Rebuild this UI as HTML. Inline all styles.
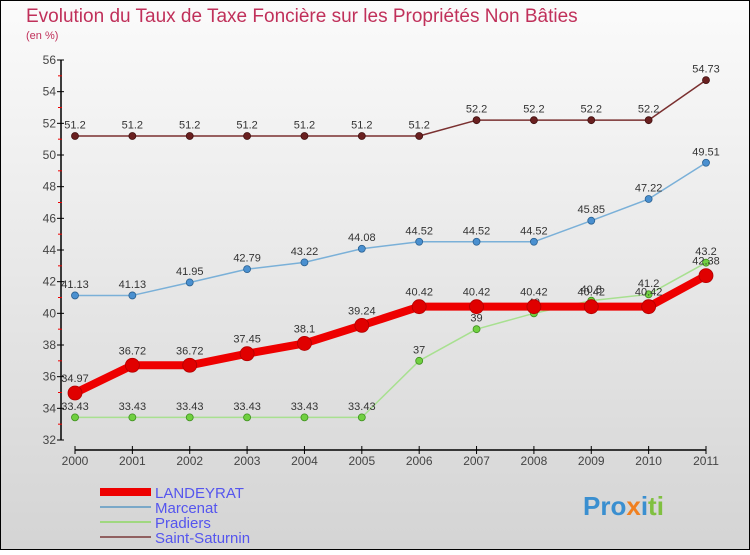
<!DOCTYPE html>
<html><head><meta charset="utf-8"><style>
body{margin:0;width:750px;height:550px;overflow:hidden;font-family:"Liberation Sans",sans-serif}
</style></head><body>
<svg width="750" height="550">
<defs><linearGradient id="bg" x1="0" y1="0" x2="0" y2="1"><stop offset="0" stop-color="#fbfbfb"/><stop offset="1" stop-color="#d4d4d4"/></linearGradient></defs>
<rect x="0.5" y="0.5" width="749" height="549" fill="url(#bg)" stroke="#000"/>
<text x="26" y="22" font-size="19" fill="#c0305a">Evolution du Taux de Taxe Foncière sur les Propriétés Non Bâties</text>
<text x="26" y="39" font-size="11" fill="#c0305a">(en %)</text>
<g id="axes"></g><g id="series"></g><g id="legend"></g>
<text x="583" y="515" font-size="26" font-weight="bold" fill="#3a8fd0">Pro<tspan fill="#f08020">x</tspan><tspan fill="#3a8fd0">i</tspan><tspan fill="#80c040">ti</tspan></text>
</svg>
<script>
const years=[2000,2001,2002,2003,2004,2005,2006,2007,2008,2009,2010,2011];
const landeyrat=[34.97,36.72,36.72,37.45,38.1,39.24,40.42,40.42,40.42,40.42,40.42,42.38];
const marcenat=[41.13,41.13,41.95,42.79,43.22,44.08,44.52,44.52,44.52,45.85,47.22,49.51];
const pradiers=[33.43,33.43,33.43,33.43,33.43,33.43,37,39,40,40.8,41.2,43.2];
const saintSaturnin=[51.2,51.2,51.2,51.2,51.2,51.2,51.2,52.2,52.2,52.2,52.2,54.73];
const yTicks=[32,34,36,38,40,42,44,46,48,50,52,54,56];
const NS="http://www.w3.org/2000/svg";
const xs=i=>75+i*(706-75)/(years.length-1);
const ys=v=>440-(v-32)*(380/24);
function mk(tag,attrs,parent,text){const e=document.createElementNS(NS,tag);for(const k in attrs)e.setAttribute(k,attrs[k]);if(text!==undefined)e.textContent=text;parent.appendChild(e);return e;}
const ax=document.getElementById('axes');
let e=mk('line',{x1:61,y1:60,x2:61,y2:440,stroke:'#000','stroke-width':1.5},ax);


e=mk('line',{x1:75,y1:450,x2:706,y2:450,stroke:'#000','stroke-width':1.5},ax);


yTicks.forEach(t=>{const y=ys(t);
mk('line',{x1:57,y1:y,x2:64,y2:y,stroke:'#000'},ax);
if(t<56)mk('line',{x1:58,y1:ys(t+1),x2:62,y2:ys(t+1),stroke:'#e00'},ax);
e=mk('text',{x:56,y:y+4,'font-size':12,fill:'#444','text-anchor':'end'},ax,t);

});
years.forEach((yr,i)=>{const x=xs(i);
mk('line',{x1:x,y1:446,x2:x,y2:454,stroke:'#000'},ax);
e=mk('text',{x:x,y:465,'font-size':12,fill:'#444','text-anchor':'middle'},ax,yr);

});
const sg=document.getElementById('series');
function series(name,data,color,w,r,dot,dotStroke,fs){
const g=mk('g',{},sg);


const p=mk('polyline',{points:data.map((v,i)=>xs(i)+','+ys(v)).join(' '),fill:'none',stroke:color,'stroke-width':w,'stroke-linejoin':'round'},g);


data.forEach((v,i)=>{const c=mk('circle',{cx:xs(i),cy:ys(v),r:r,fill:dot,stroke:dotStroke,'stroke-width':0.8},g);


const t=mk('text',{x:xs(i),y:ys(v)-(r+4),'font-size':11,fill:'#333','text-anchor':'middle'},g,String(v));

});}
series('saint-saturnin',saintSaturnin,'#7a3030',1.5,3.5,'#6a2020','#401010');
series('marcenat',marcenat,'#7ab0d8',1.5,3.5,'#4a90d0','#2a6090');
series('pradiers',pradiers,'#a8e090',1.5,3.5,'#70d040','#409020');
series('landeyrat',landeyrat,'#ee0000',8,7,'#e00000','#b00000');
const lg=document.getElementById('legend');
[['LANDEYRAT','#ee0000',8],['Marcenat','#7aa8c8',2],['Pradiers','#a0d880',2],['Saint-Saturnin','#906060',2]].forEach((d,i)=>{const y=492+i*15;
const l=mk('line',{x1:100,y1:y,x2:151,y2:y,stroke:d[1],'stroke-width':d[2]},lg);


const t=mk('text',{x:155,y:y+6,'font-size':15,fill:'#5555ee'},lg,d[0]);

});
</script>
</body></html>
